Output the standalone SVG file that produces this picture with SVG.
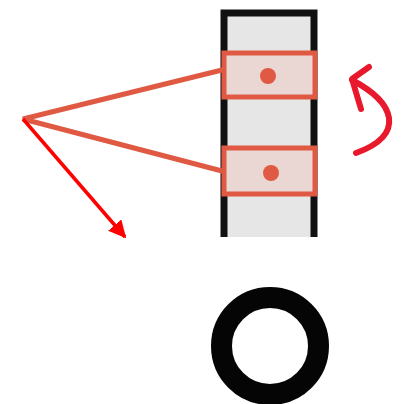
<svg xmlns="http://www.w3.org/2000/svg" width="411" height="404" viewBox="0 0 411 404">
<defs>
<style>
.beam{stroke:#e05a43;stroke-width:5;fill:none;stroke-linecap:round}
.box{fill:#ead6d3;stroke:#e05a43;stroke-width:5}
.dot{fill:#e05a43}
</style>
<marker id="ah" viewBox="0 0 10 10" refX="9" refY="5" markerWidth="5" markerHeight="5" orient="auto" markerUnits="strokeWidth">
<path d="M0,0 L10,5 L0,10 z" fill="#ff0000"/>
</marker>
</defs>
<rect width="411" height="404" fill="#ffffff"/>
<g id="bar">
<rect x="224" y="13" width="90" height="230" fill="#e6e6e6" stroke="#111" stroke-width="7"/>
<rect x="218" y="237" width="102" height="10" fill="#ffffff"/>
</g>
<g id="box1">
<rect class="box" x="224" y="53" width="91" height="44"/>
<circle class="dot" cx="268" cy="76" r="8"/>
</g>
<g id="box2">
<rect class="box" x="224" y="148" width="91" height="46"/>
<circle class="dot" cx="271" cy="173" r="8"/>
</g>
<g id="connectors">
<path class="beam" d="M222,70 L23,119 L222,171"/>
<line x1="23" y1="119" x2="125" y2="237" stroke="#ff0000" stroke-width="3.5" marker-end="url(#ah)"/>
<path d="M356,153 Q392,140 389,118 Q386,98 352,80 M369,67 L352,79 L361,109" fill="none" stroke="#e8192c" stroke-width="6" stroke-linecap="round" stroke-linejoin="round"/>
</g>
<g id="ring">
<circle cx="270" cy="346" r="48.5" fill="none" stroke="#050505" stroke-width="21"/>
</g>
</svg>
